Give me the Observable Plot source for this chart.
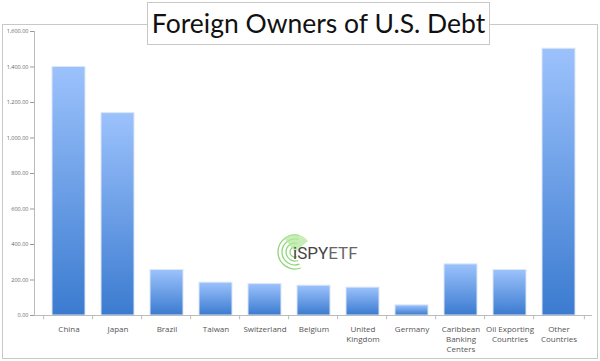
<!DOCTYPE html>
<html><head><meta charset="utf-8">
<script src="https://cdn.jsdelivr.net/npm/d3@7"></script>
<script src="https://cdn.jsdelivr.net/npm/@observablehq/plot@0.6"></script>
<style>
html,body{margin:0;padding:0;background:#fff;}
#wrap{position:relative;width:600px;height:361px;overflow:hidden;}
#frame{position:absolute;left:2px;top:24px;width:594px;height:333px;border:1px solid #c8c8c8;}
#title{position:absolute;left:147px;top:2px;width:341px;height:41px;border:1px solid #c8c8c8;background:#fff;white-space:nowrap;
 font-family:Lato,sans-serif;font-size:26.5px;line-height:41px;text-align:center;color:#111;}
#chart{position:absolute;left:0;top:0;}
#logo{position:absolute;left:268px;top:228px;}
</style></head>
<body><div id="wrap"><div id="frame"></div><div id="chart"></div><div id="logo"></div><div id="title">Foreign Owners of U.S. Debt</div></div>
<script>
const categories = ["China","Japan","Brazil","Taiwan","Switzerland","Belgium","United Kingdom","Germany","Caribbean Banking Centers","Oil Exporting Countries","Other Countries"];
const values = [1400, 1140, 256, 185, 177, 168, 157, 57, 288, 256, 1503];
const tickLabels = ["China","Japan","Brazil","Taiwan","Switzerland","Belgium","United\nKingdom","Germany","Caribbean\nBanking\nCenters","Oil Exporting\nCountries","Other\nCountries"];
const yTicks = [0,200,400,600,800,1000,1200,1400,1600];

const data = categories.map((c,i)=>({category:c, value:values[i]}));
const W = 600, H = 361, mL = 34, mR = 8, mT = 31, mB = 46;
const step = (W - mL - mR) / categories.length;
const labelOf = new Map(categories.map((c,i)=>[c, tickLabels[i]]));

const plot = Plot.plot({
  width: W, height: H,
  marginLeft: mL, marginRight: mR, marginTop: mT, marginBottom: mB,
  style: {background: "transparent", fontFamily: "'Open Sans', sans-serif", color: "#555"},
  x: {domain: categories, padding: 0.33, axis: null, label: null},
  y: {domain: [0, 1600], axis: null, label: null},
  marks: [
    Plot.barY(data, {x: "category", y: "value", fill: "url(#barGrad)", stroke: "#dbe6f7", strokeWidth: 1}),
    Plot.axisY({ticks: yTicks, tickFormat: d3.format(",.2f"), tickSize: 4, tickPadding: 2, fontSize: 5.5, stroke: "#999", color: "#666", label: null}),
    Plot.axisX({tickSize: 0, tickPadding: 9, fontSize: 8, lineHeight: 1.25, tickFormat: d => labelOf.get(d), color: "#555", label: null}),
    Plot.frame({anchor: "left", stroke: "#bbb"}),
    Plot.ruleY([0], {stroke: "#bbb"}),
    Plot.ruleX(categories, {x: d => d, dx: -step/2, y1: 0, y2: -24, stroke: "#bbb"}),
    Plot.ruleX(categories.slice(-1), {x: d => d, dx: step/2, y1: 0, y2: -24, stroke: "#bbb"})
  ]
});
const ns = "http://www.w3.org/2000/svg";
const defs = document.createElementNS(ns, "defs");
defs.innerHTML = '<linearGradient id="barGrad" x1="0" y1="0" x2="0" y2="1"><stop offset="0" stop-color="#9cc2fc"/><stop offset="1" stop-color="#3b7bd0"/></linearGradient>';
plot.insertBefore(defs, plot.firstChild);
document.getElementById("chart").appendChild(plot);

// watermark logo (decoration)
const arc = (r, a0, a1) => {
  const cx = 27, cy = 24, rad = a => a * Math.PI / 180;
  const x0 = cx + r * Math.cos(rad(a0)), y0 = cy + r * Math.sin(rad(a0));
  const x1 = cx + r * Math.cos(rad(a1)), y1 = cy + r * Math.sin(rad(a1));
  return `M${x0.toFixed(1)} ${y0.toFixed(1)} A${r} ${r} 0 1 0 ${x1.toFixed(1)} ${y1.toFixed(1)}`;
};
const arcs = [5, 9, 13, 17].map(r => `<path d="${arc(r, -75, 70)}"/>`).join("");
document.getElementById("logo").innerHTML = `
<svg width="110" height="46" viewBox="0 0 110 46">
  <g fill="none" stroke="#8fd67a" stroke-width="1.3">${arcs}</g>
  <path d="M27 24 L16 10 A17 17 0 0 1 40 13 Z" fill="#b5e8a0" opacity="0.75"/>
  <text x="25" y="31" font-family="Roboto, sans-serif" font-size="17" fill="#444">i<tspan>SPY</tspan><tspan fill="#666">ETF</tspan></text>
</svg>`;
</script>
</body></html>
